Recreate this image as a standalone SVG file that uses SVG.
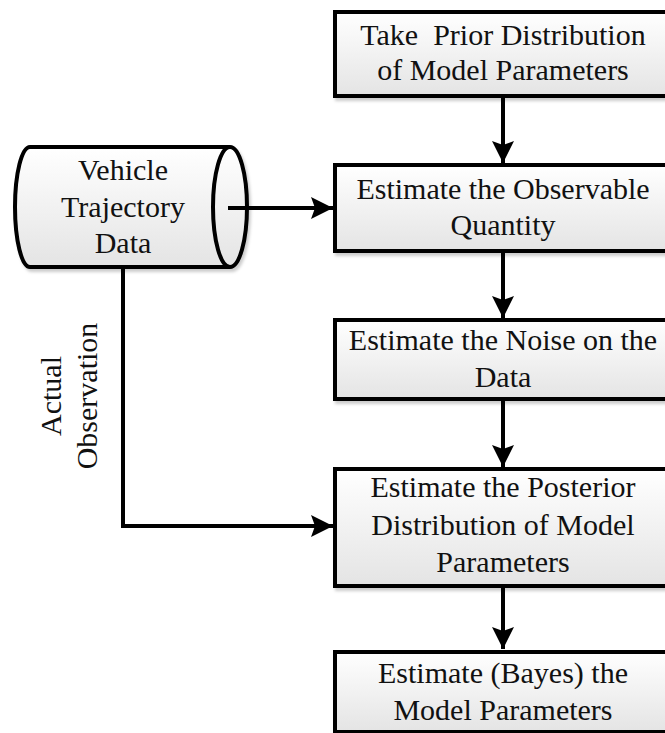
<svg xmlns="http://www.w3.org/2000/svg" width="665" height="733" viewBox="0 0 665 733">
  <style>
    .box { fill: url(#fillGrad); stroke: #000; stroke-width: 4; filter: url(#shadow); }
    .label { font-family: "Liberation Serif", "Times New Roman", serif; font-size: 30px; fill: #111; text-anchor: middle; }
    .wire { fill: none; stroke: #000; stroke-width: 4; }
  </style>
  <defs>
    <linearGradient id="fillGrad" x1="0" y1="0" x2="0" y2="1">
      <stop offset="0" stop-color="#ffffff"/>
      <stop offset="1" stop-color="#e4e4e4"/>
    </linearGradient>
    <filter id="shadow" x="-10%" y="-10%" width="125%" height="130%">
      <feDropShadow dx="2" dy="3" stdDeviation="1.5" flood-color="#000" flood-opacity="0.2"/>
    </filter>
    <marker id="arrow" markerUnits="userSpaceOnUse" markerWidth="24" markerHeight="24" refX="22" refY="11" orient="auto">
      <path d="M0,0 L22,11 L0,22 L4,11 Z" fill="#000"/>
    </marker>
  </defs>

  <!-- data source cylinder -->
  <g id="vehicle-data">
    <path class="box" d="M30,147 L230,147 A17,60 0 0 1 230,267 L30,267 A15,60 0 0 1 30,147 Z"/>
    <path class="wire" d="M230,147 A17,60 0 0 0 230,267"/>
    <text class="label" x="123" y="180">Vehicle</text>
    <text class="label" x="123" y="217">Trajectory</text>
    <text class="label" x="123" y="253">Data</text>
  </g>

  <g id="prior">
    <rect class="box" x="335" y="12" width="340" height="84"/>
    <text class="label" x="503" y="45" xml:space="preserve">Take  Prior Distribution</text>
    <text class="label" x="503" y="80">of Model Parameters</text>
  </g>

  <g id="observable">
    <rect class="box" x="335" y="165" width="340" height="86"/>
    <text class="label" x="503" y="199">Estimate the Observable</text>
    <text class="label" x="503" y="235">Quantity</text>
  </g>

  <g id="noise">
    <rect class="box" x="335" y="320" width="340" height="79"/>
    <text class="label" x="503" y="350">Estimate the Noise on the</text>
    <text class="label" x="503" y="387">Data</text>
  </g>

  <g id="posterior">
    <rect class="box" x="335" y="469" width="340" height="117"/>
    <text class="label" x="503" y="497">Estimate the Posterior</text>
    <text class="label" x="503" y="535">Distribution of Model</text>
    <text class="label" x="503" y="572">Parameters</text>
  </g>

  <g id="bayes">
    <rect class="box" x="335" y="652" width="340" height="80"/>
    <text class="label" x="503" y="683">Estimate (Bayes) the</text>
    <text class="label" x="503" y="720">Model Parameters</text>
  </g>

  <!-- connectors -->
  <g id="connectors">
    <line class="wire" x1="503" y1="97" x2="503" y2="163" marker-end="url(#arrow)"/>
    <line class="wire" x1="503" y1="252" x2="503" y2="318" marker-end="url(#arrow)"/>
    <line class="wire" x1="503" y1="400" x2="503" y2="467" marker-end="url(#arrow)"/>
    <line class="wire" x1="503" y1="587" x2="503" y2="649" marker-end="url(#arrow)"/>
    <line class="wire" x1="228" y1="208" x2="333" y2="208" marker-end="url(#arrow)"/>
    <polyline class="wire" points="123,269 123,526 333,526" marker-end="url(#arrow)"/>
    <text class="label" transform="translate(61,396) rotate(-90)">Actual</text>
    <text class="label" transform="translate(97,396) rotate(-90)">Observation</text>
  </g>
</svg>
